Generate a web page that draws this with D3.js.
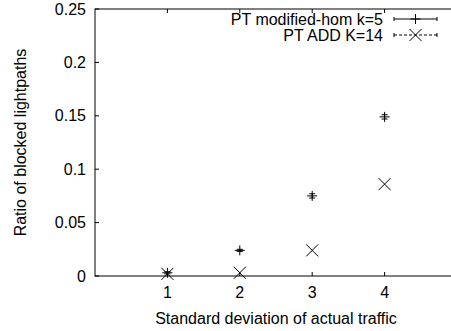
<!DOCTYPE html>
<html>
<head>
<meta charset="utf-8">
<script src="https://cdn.jsdelivr.net/npm/d3@7"></script>
<style>
  body { margin: 0; background: #fff; }
  text { font-family: "Liberation Sans", Arial, sans-serif; font-size: 16px; fill: #000; }
</style>
</head>
<body>
<script>
// data
const stdDevs = [1, 2, 3, 4];
const modHom = [0.003, 0.024, 0.075, 0.149];     // PT modified-hom k=5
const modHomErr = [0.001, 0.001, 0.002, 0.002];
const addK14 = [0.002, 0.003, 0.024, 0.086];     // PT ADD K=14
const xTicks = [1, 2, 3, 4];
const yTicks = [0, 0.05, 0.1, 0.15, 0.2, 0.25];
const legendNames = ["PT modified-hom k=5", "PT ADD K=14"];

const width = 451, height = 331;
const margin = { left: 95, top: 9, right: -6, bottom: 55 };

const svg = d3.select("body").append("svg")
  .attr("width", width)
  .attr("height", height);

const x = d3.scaleLinear().domain([0, 5]).range([margin.left, width - margin.right]);
const y = d3.scaleLinear().domain([0, 0.25]).range([height - margin.bottom, margin.top]);

const fmt = d => d === 0 ? "0" : String(d);

// frame
svg.append("rect")
  .attr("x", x(0)).attr("y", y(0.25))
  .attr("width", x(5) - x(0)).attr("height", y(0) - y(0.25))
  .attr("fill", "none").attr("stroke", "#000").attr("stroke-width", 1);

// y ticks (inside, mirrored)
yTicks.forEach(t => {
  svg.append("line").attr("x1", x(0)).attr("x2", x(0) + 4)
    .attr("y1", y(t)).attr("y2", y(t)).attr("stroke", "#000");
  svg.append("line").attr("x1", x(5)).attr("x2", x(5) - 4)
    .attr("y1", y(t)).attr("y2", y(t)).attr("stroke", "#000");
  svg.append("text").attr("x", x(0) - 9).attr("y", y(t))
    .attr("dy", "0.35em").attr("text-anchor", "end").text(fmt(t));
});

// x ticks
xTicks.forEach(t => {
  svg.append("line").attr("x1", x(t)).attr("x2", x(t))
    .attr("y1", y(0)).attr("y2", y(0) - 4).attr("stroke", "#000");
  svg.append("line").attr("x1", x(t)).attr("x2", x(t))
    .attr("y1", y(0.25)).attr("y2", y(0.25) + 4).attr("stroke", "#000");
  svg.append("text").attr("x", x(t)).attr("y", y(0) + 22)
    .attr("text-anchor", "middle").text(t);
});

// axis titles
svg.append("text").attr("x", x(2.5)).attr("y", 324)
  .attr("text-anchor", "middle").text("Standard deviation of actual traffic");
svg.append("text")
  .attr("transform", `translate(26,${(y(0) + y(0.25)) / 2}) rotate(-90)`)
  .attr("text-anchor", "middle").text("Ratio of blocked lightpaths");

// markers
function plus(g, cx, cy, s) {
  g.append("path").attr("d", `M${cx - s},${cy}H${cx + s}M${cx},${cy - s}V${cy + s}`)
    .attr("stroke", "#000").attr("fill", "none");
}
function cross(g, cx, cy, s) {
  g.append("path").attr("d", `M${cx - s},${cy - s}L${cx + s},${cy + s}M${cx - s},${cy + s}L${cx + s},${cy - s}`)
    .attr("stroke", "#000").attr("fill", "none");
}

const pts = svg.append("g");
stdDevs.forEach((s, i) => {
  const cx = x(s), lo = y(modHom[i] - modHomErr[i]), hi = y(modHom[i] + modHomErr[i]);
  pts.append("path")
    .attr("d", `M${cx},${lo}V${hi}M${cx - 3},${lo}H${cx + 3}M${cx - 3},${hi}H${cx + 3}`)
    .attr("stroke", "#000").attr("fill", "none");
  plus(pts, cx, y(modHom[i]), 5);
  cross(pts, cx, y(addK14[i]), 6);
});

// legend
const lx1 = 394, lx2 = 437, lxm = (lx1 + lx2) / 2;
legendNames.forEach((name, i) => {
  const ly = 19 + i * 16;
  svg.append("text").attr("x", 383).attr("y", ly).attr("dy", "0.35em")
    .attr("text-anchor", "end").text(name);
  svg.append("line").attr("x1", lx1).attr("x2", lx2).attr("y1", ly).attr("y2", ly)
    .attr("stroke", "#000").attr("stroke-dasharray", i === 1 ? "3,2" : null);
  svg.append("path").attr("d", `M${lx1},${ly - 2}V${ly + 2}M${lx2},${ly - 2}V${ly + 2}`)
    .attr("stroke", "#000");
  if (i === 0) plus(svg, lxm, ly, 5);
  else cross(svg, lxm, ly, 6);
});
</script>
</body>
</html>
